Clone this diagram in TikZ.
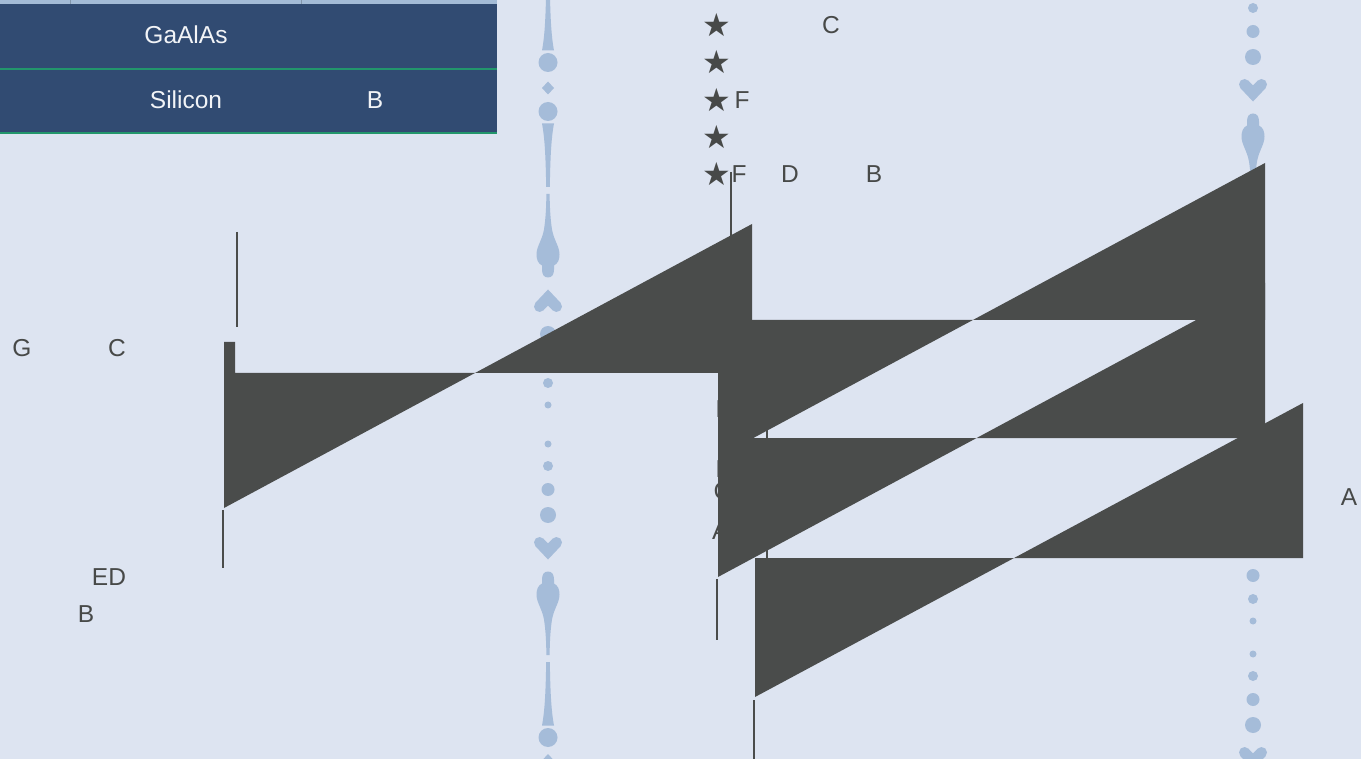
\documentclass[tikz,border=0pt]{standalone}
\usepackage{fontspec}
\setmainfont{Liberation Sans}
\newfontfamily\symfont{DejaVu Sans}
\definecolor{bgc}{HTML}{DDE4F1}
\definecolor{darkc}{HTML}{4A4C4B}
\definecolor{decoc}{HTML}{A5BCD9}
\definecolor{tablec}{HTML}{314B72}
\definecolor{greenc}{HTML}{22966C}
\definecolor{stripc}{HTML}{A3BBD6}
\definecolor{labelc}{HTML}{474948}
\definecolor{whitec}{HTML}{F2F4F7}
\tikzset{
  lbl/.style={text=labelc,inner sep=0pt,font=\fontsize{24.5}{28}\selectfont},
  cell/.style={text=whitec,inner sep=0pt,font=\fontsize{24.5}{28}\selectfont},
  starlbl/.style={text=labelc,inner sep=0pt,font=\symfont\fontsize{32}{34}\selectfont},
  conn/.style={draw=darkc,line width=2pt},
  bowtie/.style={fill=darkc},
  decofill/.style={fill=decoc}
}
\newcommand\decohalf[3]{%
  \begin{scope}[shift={(#1,#2)},yscale=#3]
    \fill[decofill] (0,19.5) circle[radius=3.5];
    \fill[decofill] (0,41.5) circle[radius=5];
    \fill[decofill] (0,65) circle[radius=6.5];
    \fill[decofill] (0,90.5) circle[radius=8];
    \draw[decoc,line width=11pt,line cap=round,line join=miter] (-8.5,118) -- (0,127) -- (8.5,118);
    \fill[decofill] (0,147) .. controls (4,147) and (6,150) .. (6,155) -- (6,159)
      .. controls (10,161) and (11.5,165) .. (11.5,170) .. controls (11.5,178) and (6,184) .. (4,195)
      .. controls (2.5,205) and (1.8,215) .. (1.6,230.5) -- (-1.6,230.5)
      .. controls (-1.8,215) and (-2.5,205) .. (-4,195) .. controls (-6,184) and (-11.5,178) .. (-11.5,170)
      .. controls (-11.5,165) and (-10,161) .. (-6,159) -- (-6,155) .. controls (-6,150) and (-4,147) .. (0,147) -- cycle;
    \fill[decofill] (-1.8,237.5) -- (1.8,237.5) .. controls (2.3,265) and (3,285) .. (6,301)
      -- (-6,301) .. controls (-3,285) and (-2.3,265) .. (-1.8,237.5) -- cycle;
    \fill[decofill] (0,313) circle[radius=9.5];
  \end{scope}}
\newcommand\decodiamond[2]{%
  \fill[decofill] (#1,#2-6.5) -- (#1+6,#2) -- (#1,#2+6.5) -- (#1-6,#2) -- cycle;}
\begin{document}
\begin{tikzpicture}[x=1pt,y=-1pt]
\useasboundingbox (0,0) rectangle (1361,759);
\fill[bgc] (0,0) rectangle (1361,759);

% table
\fill[stripc] (0,0) rectangle (497,4.5);
\draw[color=stripc!80!black,line width=0.6pt] (70,0) -- (70,4.5) (301,0) -- (301,4.5);
\fill[tablec] (0,4.5) rectangle (497,133.5);
\draw[greenc,line width=2pt] (0,69.5) -- (497,69.5);
\draw[greenc,line width=2pt] (0,133) -- (497,133);
\node[cell] (t1) at (186,35) {GaAlAs};
\node[cell] (t2) at (186,100) {Silicon};
\node[cell] (t3) at (375,100) {B};

% decorative columns
\decohalf{548}{424.5}{1}
\decohalf{548}{424.5}{-1}
\decohalf{548}{-250.5}{1}
\decodiamond{548}{88}
\decodiamond{548}{760.5}
\decohalf{1253}{-33.5}{1}
\decohalf{1253}{640.5}{-1}
\decohalf{1253}{634.5}{1}

% labels
\node[starlbl] (s1) at (717,25) {★};
\node[starlbl] (s2) at (717,62) {★};
\node[starlbl] (s3) at (717,100) {★};
\node[starlbl] (s4) at (717,137) {★};
\node[starlbl] (s5) at (717,174) {★};
\node[lbl] (f1) at (742,100) {F};
\node[lbl] (f2) at (739,174) {F};
\node[lbl] (d1) at (790,174) {D};
\node[lbl] (b1) at (874,174) {B};
\node[lbl] (c1) at (831,25) {C};
\node[lbl] (g1) at (22,348) {G};
\node[lbl] (c2) at (117,348) {C};
\node[lbl] (ed) at (109,577) {ED};
\node[lbl] (b2) at (86,614) {B};
\node[lbl] (a1) at (1349,497) {A};
\node[lbl,anchor=west] (h1) at (715.5,409) {E};
\node[lbl,anchor=west] (h2) at (715.5,469) {D};
\node[lbl,anchor=west] (h3) at (713.5,491) {C};
\node[lbl,anchor=west] (h4) at (712,531) {A};

% connector stubs
\coordinate (p1) at (236.7,232);
\coordinate (q1) at (236.7,327);
\coordinate (p2) at (223,510);
\coordinate (q2) at (223,568);
\coordinate (p3) at (730.5,172);
\coordinate (q3) at (730.5,245);
\coordinate (p4) at (716.5,579);
\coordinate (q4) at (716.5,640);
\coordinate (p5) at (754,700);
\coordinate (q5) at (754,759);
\coordinate (p6) at (767,410);
\coordinate (q6) at (767,558);
\draw[conn] (p1) -- (q1);
\draw[conn] (p2) -- (q2);
\draw[conn] (p3) -- (q3);
\draw[conn] (p4) -- (q4);
\draw[conn] (p5) -- (q5);
\draw[conn] (p6) -- (q6);

% dark bow-tie shapes
\fill[bowtie] (235,373) -- (752,373) -- (752,224) -- (224,508) -- (224,342) -- (235,342) -- cycle;
\fill[bowtie] (718,320) -- (1265,320) -- (1265,163) -- (718,457) -- cycle;
\fill[bowtie] (718,438) -- (1265,438) -- (1265,283) -- (718,577) -- cycle;
\fill[bowtie] (755,558) -- (1303,558) -- (1303,403) -- (755,697) -- cycle;
\end{tikzpicture}
\end{document}
